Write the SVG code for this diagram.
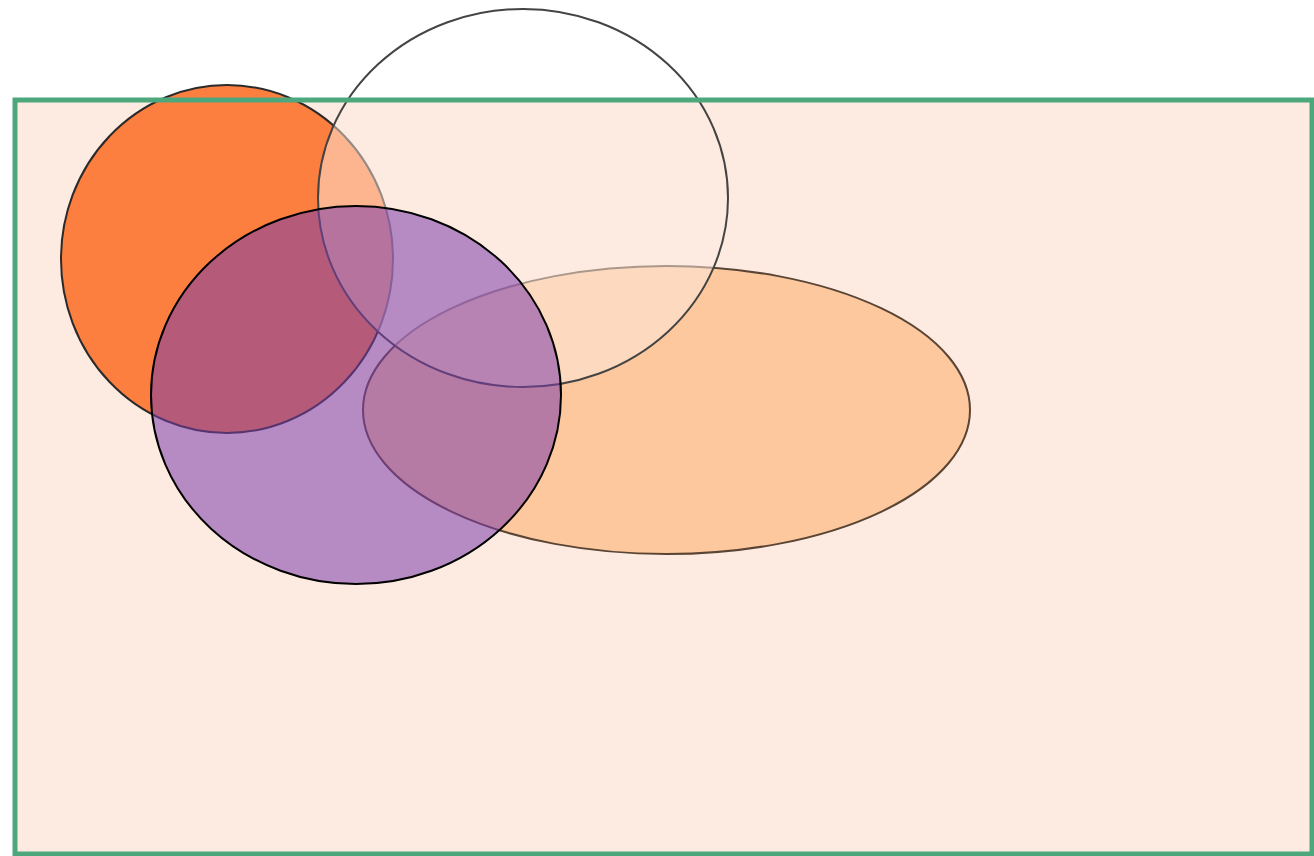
<svg xmlns="http://www.w3.org/2000/svg" width="1314" height="856" viewBox="0 0 1314 856">
<defs>
<clipPath id="inside"><rect x="15" y="100" width="1297" height="754"/></clipPath>
</defs>
<style>
.frame-fill{fill:#FDEBE2;stroke:none}
.frame-line{fill:none;stroke:#4DA77C;stroke-width:5}
.shape{stroke-width:2}
</style>
<rect width="1314" height="856" fill="#FFFFFF"/>
<g id="frame-bg"><rect class="frame-fill" x="15" y="100" width="1297" height="754"/></g>
<g id="orange-circle"><ellipse class="shape" cx="227" cy="259" rx="166" ry="174" fill="#FD7F3F" stroke="#2A2A2A"/></g>
<g id="orange-ellipse"><ellipse class="shape" cx="666.5" cy="410" rx="303.5" ry="144" fill="#FDC89D" stroke="#5A4535"/></g>
<g id="white-ellipse">
<ellipse cx="523" cy="198" rx="205" ry="189" fill="#FDEBE2" fill-opacity="0.5" stroke="none" clip-path="url(#inside)"/>
<ellipse class="shape" cx="523" cy="198" rx="205" ry="189" fill="none" stroke="#444444"/>
</g>
<g id="frame"><rect class="frame-line" x="15" y="100" width="1297" height="754"/></g>
<g id="purple-circle"><ellipse class="shape" cx="356" cy="395" rx="205" ry="189" fill="#7C3DAA" fill-opacity="0.55" stroke="#000000"/></g>
</svg>
